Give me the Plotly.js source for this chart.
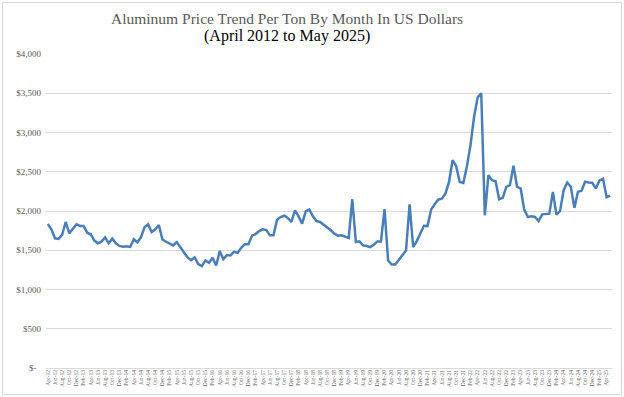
<!DOCTYPE html>
<html>
<head>
<meta charset="utf-8">
<script src="https://cdn.plot.ly/plotly-3.0.1.min.js"></script>
<style>
html,body{margin:0;padding:0;background:#fff;}
#wrap{position:relative;width:624px;height:397px;}
#chart{width:624px;height:397px;}
#frame{position:absolute;left:2px;top:2px;width:618px;height:391px;border:1px solid #d9d9d9;pointer-events:none;}
</style>
</head>
<body>
<div id="wrap"><div id="chart"></div><div id="frame"></div></div>
<script>
// Month names and years used to build category labels (Apr-12 .. May-25)
var monthNames = ["Jan","Feb","Mar","Apr","May","Jun","Jul","Aug","Sep","Oct","Nov","Dec"];
var startYear = 12, startMonth = 3; // April 2012

// Monthly aluminum price per ton (USD), April 2012 .. May 2025
var prices = [
  1835, 1767, 1652, 1644, 1695, 1860, 1716, 1767, 1830, 1809,
  1809, 1724, 1703, 1623, 1589, 1610, 1665, 1589, 1648, 1589,
  1555, 1546, 1550, 1542, 1640, 1601, 1665, 1792, 1830, 1733,
  1767, 1822, 1638, 1608, 1587, 1561, 1604, 1536, 1468, 1408,
  1374, 1408, 1323, 1297, 1370, 1340, 1405, 1306, 1489, 1387,
  1438, 1434, 1480, 1468, 1531, 1578, 1578, 1685, 1706, 1744,
  1766, 1757, 1690, 1690, 1890, 1923, 1940, 1911, 1860, 2008,
  1932, 1839, 1996, 2021, 1932, 1872, 1860, 1826, 1783, 1754,
  1711, 1686, 1690, 1677, 1656, 2150, 1605, 1613, 1562, 1554,
  1541, 1571, 1613, 1613, 2025, 1370, 1318, 1318, 1382, 1446,
  1497, 2085, 1540, 1617, 1719, 1812, 1808, 2017, 2085, 2145,
  2158, 2222, 2370, 2647, 2571, 2370, 2358, 2571, 2839, 3201,
  3448, 3500, 1945, 2456, 2392, 2380, 2150, 2167, 2308, 2329,
  2577, 2308, 2287, 2017, 1924, 1932, 1924, 1872, 1957, 1966,
  1966, 2244, 1953, 2000, 2265, 2363, 2308, 2040, 2244, 2257,
  2372, 2363, 2360, 2287, 2390, 2410, 2175, 2195
];

var months = [];
for (var k = 0; k < prices.length; k++) {
  var m = (startMonth + k) % 12;
  var y = startYear + Math.floor((startMonth + k) / 12);
  months.push(monthNames[m] + "-" + (y < 10 ? "0" + y : "" + y));
}
// tick labels every second month
var xTickLabels = months.filter(function (d, i) { return i % 2 === 0; });

var yTickVals = [0, 500, 1000, 1500, 2000, 2500, 3000, 3500, 4000];
var yTickText = ["$-\u00a0\u00a0", "$500", "$1,000", "$1,500", "$2,000", "$2,500", "$3,000", "$3,500", "$4,000"];

var trace = {
  x: months,
  y: prices,
  type: "scatter",
  mode: "lines",
  line: { color: "#4a7ebb", width: 2.5 },
  hoverinfo: "x+y"
};

var serif = "Liberation Serif, Times New Roman, serif";

var layout = {
  width: 624,
  height: 397,
  margin: { l: 46, r: 12, t: 54, b: 29 },
  paper_bgcolor: "#ffffff",
  plot_bgcolor: "#ffffff",
  showlegend: false,
  font: { family: serif, color: "#595959" },
  xaxis: {
    type: "category",
    range: [-0.5, prices.length - 0.5],
    tickmode: "array",
    tickvals: xTickLabels,
    ticktext: xTickLabels,
    tickangle: -90,
    tickfont: { family: serif, size: 5.5, color: "#666666" },
    showgrid: false,
    zeroline: false,
    showline: false,
    ticks: "",
    automargin: false
  },
  yaxis: {
    range: [0, 4000],
    tickmode: "array",
    tickvals: yTickVals,
    ticktext: yTickText,
    tickfont: { family: serif, size: 9, color: "#595959" },
    showgrid: true,
    gridcolor: "#d9d9d9",
    gridwidth: 1,
    zeroline: true,
    zerolinecolor: "#d9d9d9",
    zerolinewidth: 1,
    showline: false,
    ticks: "",
    ticklabelstandoff: 4,
    automargin: false
  },
  annotations: [
    {
      text: "Aluminum Price Trend Per Ton By Month In US Dollars",
      xref: "paper", yref: "paper",
      x: (287 - 46) / 566, y: (397 - 29 - 19) / 314,
      xanchor: "center", yanchor: "middle",
      showarrow: false,
      font: { family: serif, size: 15.5, color: "#595959" }
    },
    {
      text: "(April 2012 to May 2025)",
      xref: "paper", yref: "paper",
      x: (287 - 46) / 566, y: (397 - 29 - 36) / 314,
      xanchor: "center", yanchor: "middle",
      showarrow: false,
      font: { family: serif, size: 16, color: "#000000" }
    }
  ]
};

Plotly.newPlot("chart", [trace], layout, { displayModeBar: false, staticPlot: true });
</script>
</body>
</html>
